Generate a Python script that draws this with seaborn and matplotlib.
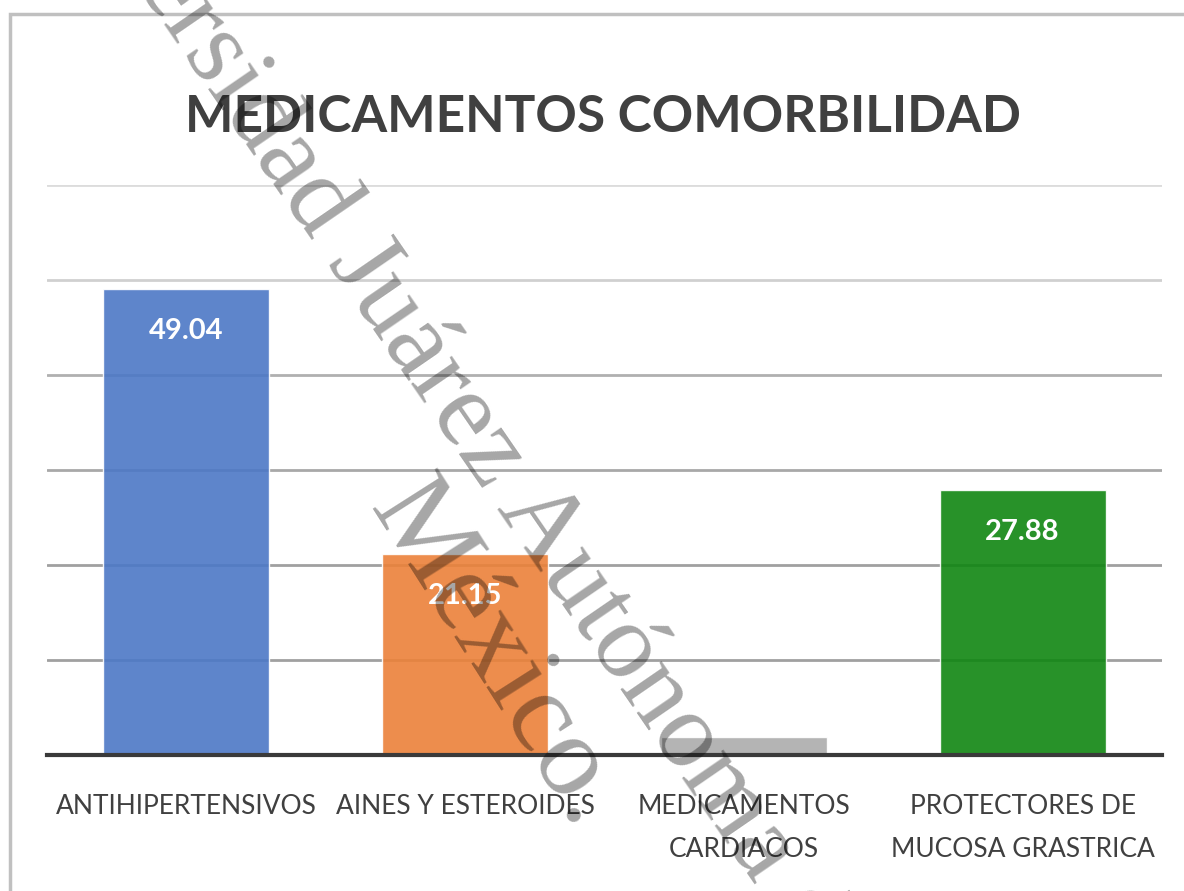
import numpy as np
from matplotlib import pyplot as plt
from matplotlib.patches import Rectangle
import pandas as pd
import seaborn as sea

categorias = ["ANTIHIPERTENSIVOS", "AINES Y ESTEROIDES", "MEDICAMENTOS\nCARDIACOS",
              "PROTECTORES DE\nMUCOSA GRASTRICA"]
porcentajes = [49.04, 21.15, 1.93, 27.88]
etiquetas = ["49.04", "21.15", "", "27.88"]
colores = ["#4C78C6", "#EB8139", "#ACACAC", "#108612"]
titulo = "MEDICAMENTOS COMORBILIDAD"
marca1 = "Universidad Juárez Autónoma de Tabasco"
marca2 = "México."

data = pd.DataFrame({"cat": categorias, "val": porcentajes})

sea.set_style("white")
plt.rcParams["font.family"] = ["Lato", "DejaVu Sans"]

W, H = 1184, 891
fig = plt.figure(figsize=(W / 100, H / 100), dpi=100)
ax = fig.add_axes([47 / W, 1 - 755 / H, (1162 - 47) / W, (755 - 185) / H])

sea.barplot(data=data, x="cat", y="val", hue="cat", palette=colores, legend=False,
            width=0.595, saturation=1, alpha=0.9, ax=ax, zorder=2)

ax.set_xlim(-0.5, 3.5)
ax.set_ylim(0, 60)
ax.set_yticks(np.arange(0, 61, 10))
ax.set_yticklabels([])
ax.tick_params(axis="y", length=0)
ax.tick_params(axis="x", length=0, pad=28, labelsize=19, labelcolor="#404040")
for t in ax.get_xticklabels():
    t.set_linespacing(1.9)
ax.set_xlabel("")
ax.set_ylabel("")
ax.grid(axis="y", linewidth=2, zorder=0)
ax.set_axisbelow(True)
gris = ["#ffffff", "#a0a0a0", "#a0a0a0", "#a8a8a8", "#b0b0b0", "#d0d0d0", "#dcdcdc"]
for g, c in zip(ax.get_ygridlines(), gris):
    g.set_color(c)
for s in ["left", "right", "top"]:
    ax.spines[s].set_visible(False)
ax.spines["bottom"].set_color("#3a3a3a")
ax.spines["bottom"].set_linewidth(3)
ax.spines["bottom"].set_zorder(3)

for barra, lab in zip(ax.patches, etiquetas):
    ax.annotate(lab, (barra.get_x() + barra.get_width() / 2, barra.get_height()),
                xytext=(0, -30), textcoords="offset points", ha="center", va="center",
                color="white", fontsize=21, fontweight="bold", zorder=4)

fig.text(603 / W, 1 - 132 / H, titulo, ha="center", va="baseline",
         fontsize=37, fontweight="bold", color="#404040")

fig.patches.append(Rectangle((10 / W, -0.2), 1.2, 1.2 - 14 / H, transform=fig.transFigure,
                             fill=False, edgecolor="#c0c0c0", linewidth=2.5))

# marca de agua diagonal
fig.text(12 / W, 1 + 196 / H, marca1, rotation=-55.5, rotation_mode="anchor",
         ha="left", va="baseline", fontsize=78, family="Liberation Serif",
         color="black", alpha=0.35, zorder=10)
fig.text(368 / W, 1 - 508 / H, marca2, rotation=-57.5, rotation_mode="anchor",
         ha="left", va="baseline", fontsize=84, family="Liberation Serif",
         color="black", alpha=0.35, zorder=10)

plt.savefig("out.png", dpi=100)
